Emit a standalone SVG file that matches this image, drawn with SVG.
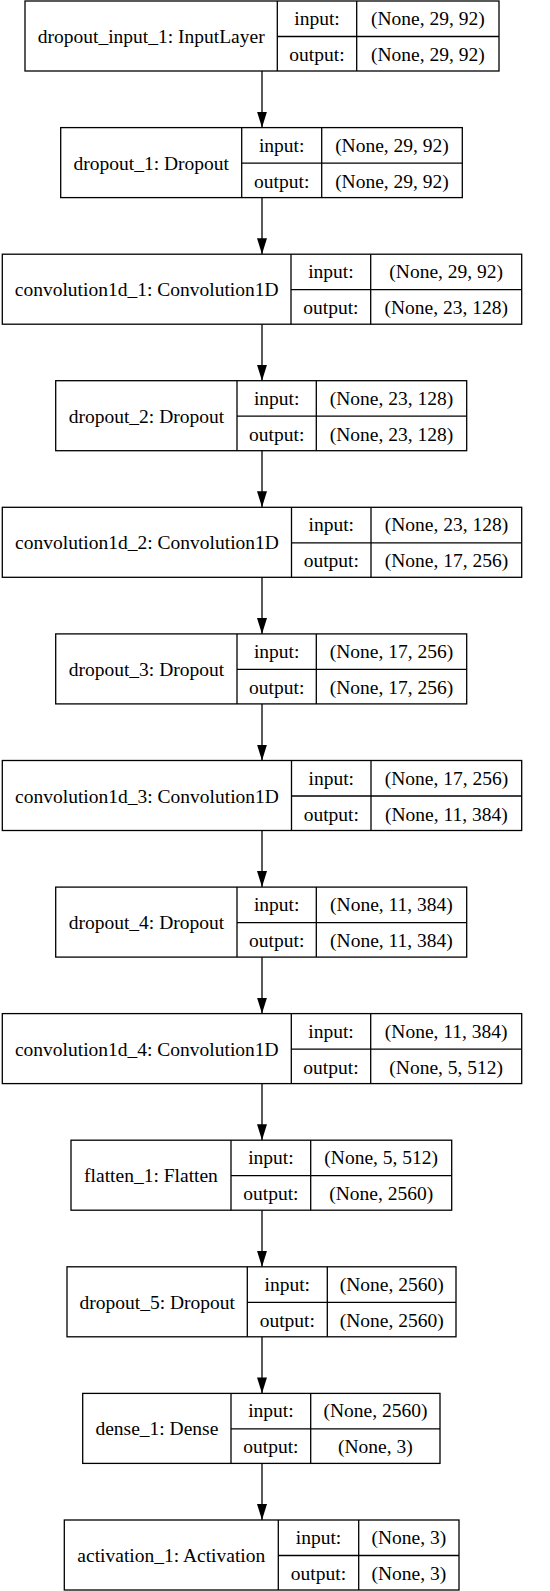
<svg xmlns="http://www.w3.org/2000/svg" width="550" height="1591" viewBox="0 0 550 1591">
<style>
rect.n{fill:#fff;stroke:#000;stroke-width:1.3}
line.d{fill:none;stroke:#000;stroke-width:1.3}
text{font-family:"Liberation Serif","DejaVu Serif",serif;font-size:19.5px;fill:#000;text-anchor:middle}
.e{stroke:#000;stroke-width:1.3;fill:none}
</style>
<defs>
<marker id="ah" markerUnits="userSpaceOnUse" markerWidth="16" markerHeight="10" refX="16" refY="5" orient="auto">
<path d="M0,0 L16,5 L0,10 z" fill="#000"/>
</marker>
</defs>
<rect x="0" y="0" width="550" height="1591" fill="#fff"/>
<g id="connectors">
<line class="e" x1="262" y1="71" x2="262" y2="127.6" marker-end="url(#ah)"/>
<line class="e" x1="262" y1="197.6" x2="262" y2="254.2" marker-end="url(#ah)"/>
<line class="e" x1="262" y1="324.2" x2="262" y2="380.7" marker-end="url(#ah)"/>
<line class="e" x1="262" y1="450.7" x2="262" y2="507.3" marker-end="url(#ah)"/>
<line class="e" x1="262" y1="577.3" x2="262" y2="633.9" marker-end="url(#ah)"/>
<line class="e" x1="262" y1="703.9" x2="262" y2="760.5" marker-end="url(#ah)"/>
<line class="e" x1="262" y1="830.5" x2="262" y2="887.1" marker-end="url(#ah)"/>
<line class="e" x1="262" y1="957.1" x2="262" y2="1013.6" marker-end="url(#ah)"/>
<line class="e" x1="262" y1="1083.6" x2="262" y2="1140.2" marker-end="url(#ah)"/>
<line class="e" x1="262" y1="1210.2" x2="262" y2="1266.8" marker-end="url(#ah)"/>
<line class="e" x1="262" y1="1336.8" x2="262" y2="1393.4" marker-end="url(#ah)"/>
<line class="e" x1="262" y1="1463.4" x2="262" y2="1520" marker-end="url(#ah)"/>
</g>
<g id="dropout_input_1" transform="translate(0,1)">
<rect class="n" x="25" y="0" width="474" height="70"/>
<line class="d" x1="277.3" y1="0" x2="277.3" y2="70"/><line class="d" x1="356.7" y1="0" x2="356.7" y2="70"/><line class="d" x1="277.3" y1="35.5" x2="499" y2="35.5"/>
<text x="151.2" y="42">dropout_input_1: InputLayer</text>
<text x="317" y="24">input:</text><text x="317" y="60">output:</text>
<text x="427.9" y="24">(None, 29, 92)</text><text x="427.9" y="60">(None, 29, 92)</text>
</g>
<g id="dropout_1" transform="translate(0,127.6)">
<rect class="n" x="60.7" y="0" width="401.6" height="70"/>
<line class="d" x1="241.7" y1="0" x2="241.7" y2="70"/><line class="d" x1="321.7" y1="0" x2="321.7" y2="70"/><line class="d" x1="241.7" y1="35.5" x2="462.3" y2="35.5"/>
<text x="151.2" y="42">dropout_1: Dropout</text>
<text x="281.7" y="24">input:</text><text x="281.7" y="60">output:</text>
<text x="392" y="24">(None, 29, 92)</text><text x="392" y="60">(None, 29, 92)</text>
</g>
<g id="convolution1d_1" transform="translate(0,254.2)">
<rect class="n" x="2.3" y="0" width="519.4" height="70"/>
<line class="d" x1="291" y1="0" x2="291" y2="70"/><line class="d" x1="370.7" y1="0" x2="370.7" y2="70"/><line class="d" x1="291" y1="35.5" x2="521.7" y2="35.5"/>
<text x="146.7" y="42">convolution1d_1: Convolution1D</text>
<text x="330.9" y="24">input:</text><text x="330.9" y="60">output:</text>
<text x="446.2" y="24">(None, 29, 92)</text><text x="446.2" y="60">(None, 23, 128)</text>
</g>
<g id="dropout_2" transform="translate(0,380.7)">
<rect class="n" x="55.7" y="0" width="411" height="70"/>
<line class="d" x1="237" y1="0" x2="237" y2="70"/><line class="d" x1="316.3" y1="0" x2="316.3" y2="70"/><line class="d" x1="237" y1="35.5" x2="466.7" y2="35.5"/>
<text x="146.4" y="42">dropout_2: Dropout</text>
<text x="276.7" y="24">input:</text><text x="276.7" y="60">output:</text>
<text x="391.5" y="24">(None, 23, 128)</text><text x="391.5" y="60">(None, 23, 128)</text>
</g>
<g id="convolution1d_2" transform="translate(0,507.3)">
<rect class="n" x="2.3" y="0" width="519.4" height="70"/>
<line class="d" x1="291.5" y1="0" x2="291.5" y2="70"/><line class="d" x1="371" y1="0" x2="371" y2="70"/><line class="d" x1="291.5" y1="35.5" x2="521.7" y2="35.5"/>
<text x="147" y="42">convolution1d_2: Convolution1D</text>
<text x="331.3" y="24">input:</text><text x="331.3" y="60">output:</text>
<text x="446.4" y="24">(None, 23, 128)</text><text x="446.4" y="60">(None, 17, 256)</text>
</g>
<g id="dropout_3" transform="translate(0,633.9)">
<rect class="n" x="55.7" y="0" width="411" height="70"/>
<line class="d" x1="237" y1="0" x2="237" y2="70"/><line class="d" x1="316.3" y1="0" x2="316.3" y2="70"/><line class="d" x1="237" y1="35.5" x2="466.7" y2="35.5"/>
<text x="146.4" y="42">dropout_3: Dropout</text>
<text x="276.7" y="24">input:</text><text x="276.7" y="60">output:</text>
<text x="391.5" y="24">(None, 17, 256)</text><text x="391.5" y="60">(None, 17, 256)</text>
</g>
<g id="convolution1d_3" transform="translate(0,760.5)">
<rect class="n" x="2.3" y="0" width="519.4" height="70"/>
<line class="d" x1="291.5" y1="0" x2="291.5" y2="70"/><line class="d" x1="371" y1="0" x2="371" y2="70"/><line class="d" x1="291.5" y1="35.5" x2="521.7" y2="35.5"/>
<text x="147" y="42">convolution1d_3: Convolution1D</text>
<text x="331.3" y="24">input:</text><text x="331.3" y="60">output:</text>
<text x="446.4" y="24">(None, 17, 256)</text><text x="446.4" y="60">(None, 11, 384)</text>
</g>
<g id="dropout_4" transform="translate(0,887.1)">
<rect class="n" x="55.7" y="0" width="411" height="70"/>
<line class="d" x1="237" y1="0" x2="237" y2="70"/><line class="d" x1="316.3" y1="0" x2="316.3" y2="70"/><line class="d" x1="237" y1="35.5" x2="466.7" y2="35.5"/>
<text x="146.4" y="42">dropout_4: Dropout</text>
<text x="276.7" y="24">input:</text><text x="276.7" y="60">output:</text>
<text x="391.5" y="24">(None, 11, 384)</text><text x="391.5" y="60">(None, 11, 384)</text>
</g>
<g id="convolution1d_4" transform="translate(0,1013.6)">
<rect class="n" x="2.3" y="0" width="519.4" height="70"/>
<line class="d" x1="291.3" y1="0" x2="291.3" y2="70"/><line class="d" x1="370.7" y1="0" x2="370.7" y2="70"/><line class="d" x1="291.3" y1="35.5" x2="521.7" y2="35.5"/>
<text x="146.8" y="42">convolution1d_4: Convolution1D</text>
<text x="331" y="24">input:</text><text x="331" y="60">output:</text>
<text x="446.2" y="24">(None, 11, 384)</text><text x="446.2" y="60">(None, 5, 512)</text>
</g>
<g id="flatten_1" transform="translate(0,1140.2)">
<rect class="n" x="71" y="0" width="380.7" height="70"/>
<line class="d" x1="231" y1="0" x2="231" y2="70"/><line class="d" x1="310.7" y1="0" x2="310.7" y2="70"/><line class="d" x1="231" y1="35.5" x2="451.7" y2="35.5"/>
<text x="151" y="42">flatten_1: Flatten</text>
<text x="270.9" y="24">input:</text><text x="270.9" y="60">output:</text>
<text x="381.2" y="24">(None, 5, 512)</text><text x="381.2" y="60">(None, 2560)</text>
</g>
<g id="dropout_5" transform="translate(0,1266.8)">
<rect class="n" x="67" y="0" width="389" height="70"/>
<line class="d" x1="247.3" y1="0" x2="247.3" y2="70"/><line class="d" x1="327.3" y1="0" x2="327.3" y2="70"/><line class="d" x1="247.3" y1="35.5" x2="456" y2="35.5"/>
<text x="157.2" y="42">dropout_5: Dropout</text>
<text x="287.3" y="24">input:</text><text x="287.3" y="60">output:</text>
<text x="391.7" y="24">(None, 2560)</text><text x="391.7" y="60">(None, 2560)</text>
</g>
<g id="dense_1" transform="translate(0,1393.4)">
<rect class="n" x="82.7" y="0" width="357.3" height="70"/>
<line class="d" x1="231" y1="0" x2="231" y2="70"/><line class="d" x1="310.7" y1="0" x2="310.7" y2="70"/><line class="d" x1="231" y1="35.5" x2="440" y2="35.5"/>
<text x="156.9" y="42">dense_1: Dense</text>
<text x="270.9" y="24">input:</text><text x="270.9" y="60">output:</text>
<text x="375.4" y="24">(None, 2560)</text><text x="375.4" y="60">(None, 3)</text>
</g>
<g id="activation_1" transform="translate(0,1520)">
<rect class="n" x="64.3" y="0" width="394.7" height="70"/>
<line class="d" x1="278.3" y1="0" x2="278.3" y2="70"/><line class="d" x1="358.7" y1="0" x2="358.7" y2="70"/><line class="d" x1="278.3" y1="35.5" x2="459" y2="35.5"/>
<text x="171.3" y="42">activation_1: Activation</text>
<text x="318.5" y="24">input:</text><text x="318.5" y="60">output:</text>
<text x="408.9" y="24">(None, 3)</text><text x="408.9" y="60">(None, 3)</text>
</g>
</svg>
